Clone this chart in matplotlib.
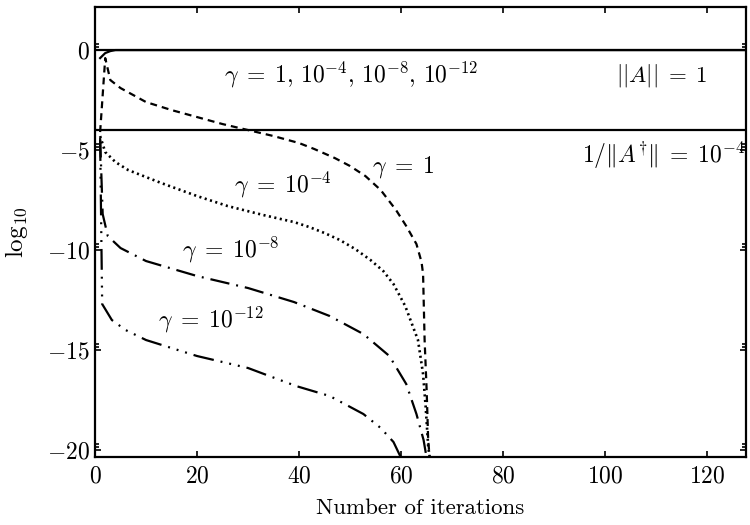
import matplotlib
matplotlib.use("Agg")
import matplotlib.pyplot as plt

plt.rcParams['mathtext.fontset'] = 'cm'
plt.rcParams['font.family'] = 'cmr10'
plt.rcParams['axes.formatter.use_mathtext'] = True
plt.rcParams['lines.scale_dashes'] = False

# reference values (log10)
norm_A = 0.0
inv_norm_pinv = -4.0

# estimates of ||A|| (all gamma)
it_top = [1, 2, 3, 4, 128]
est_top = [-0.4, -0.15, -0.05, 0.0, 0.0]

# gamma = 1
it_g0 = [1, 2, 3, 5, 10, 15, 20, 25, 30, 35, 40, 43, 47, 50, 53, 56, 59, 61, 63, 64, 64.3, 64.6, 65.0, 65.3, 65.6]
est_g0 = [-4.1, -0.4, -1.5, -1.9, -2.6, -3.0, -3.35, -3.7, -4.0, -4.3, -4.65, -4.95, -5.4, -5.8, -6.3, -7.0, -8.0,
          -8.8, -9.7, -10.6, -11.2, -14.5, -17.0, -19.5, -20.4]

# gamma = 1e-4
it_g4 = [1, 2, 4, 6.5, 10, 13, 20, 26, 33, 39, 42, 45, 48, 51, 54, 56.5, 58.5, 60.8, 63.3, 64.3, 64.8, 65.3, 65.6]
est_g4 = [-4.3, -5.1, -5.6, -6.0, -6.35, -6.65, -7.3, -7.8, -8.25, -8.6, -8.85, -9.15, -9.5, -9.95, -10.5,
          -11.05, -11.7, -12.8, -14.5, -16.2, -17.8, -19.8, -20.4]

# gamma = 1e-8
it_g8 = [1, 1.5, 2.5, 5, 10, 20, 30, 39, 46, 52.6, 57.7, 61, 63, 64.4, 65]
est_g8 = [-4.4, -8.2, -9.3, -9.9, -10.55, -11.3, -11.9, -12.6, -13.3, -14.2, -15.3, -16.7, -18.2, -19.5, -20.4]

# gamma = 1e-12
it_g12 = [1, 1.4, 3.3, 6, 10, 20, 30, 39.4, 46, 52.6, 56, 58.5, 60]
est_g12 = [-4.5, -12.7, -13.5, -14.0, -14.5, -15.3, -15.9, -16.8, -17.3, -18.2, -18.9, -19.6, -20.4]

fig = plt.figure(figsize=(7.5, 5.25), dpi=100)
ax = fig.add_axes([0.1267, 0.1295, 0.868, 0.857])

lw = 1.6
ax.axhline(norm_A, color='k', lw=lw)
ax.axhline(inv_norm_pinv, color='k', lw=lw)
ax.plot(it_top, est_top, color='k', lw=lw)
ax.plot(it_g0, est_g0, color='k', lw=lw, dashes=(5, 3.6))
ax.plot(it_g4, est_g4, color='k', lw=1.9, dashes=(1.5, 2.5))
ax.plot(it_g8, est_g8, color='k', lw=lw, dashes=(14, 5, 1.4, 5))
ax.plot(it_g12, est_g12, color='k', lw=lw, dashes=(15, 5, 1.4, 5, 1.4, 5, 1.4, 5))

fs = 17
ax.text(50.2, -1.25, r'$\gamma\;=\;1,\,10^{-4},\,10^{-8},\,10^{-12}$', fontsize=fs, ha='center', va='center')
ax.text(111, -1.25, r'$||A||\;=\;1$', fontsize=16.5, ha='center', va='center')
ax.text(127.4, -5.25, r'$1/\|A^{\dagger}\|\;=\;10^{-4}$', fontsize=fs, ha='right', va='center')
ax.text(60.4, -5.85, r'$\gamma\;=\;1$', fontsize=fs, ha='center', va='center')
ax.text(36.8, -6.75, r'$\gamma\;=\;10^{-4}$', fontsize=fs, ha='center', va='center')
ax.text(26.6, -10.0, r'$\gamma\;=\;10^{-8}$', fontsize=fs, ha='center', va='center')
ax.text(22.6, -13.5, r'$\gamma\;=\;10^{-12}$', fontsize=fs, ha='center', va='center')

ax.set_xlim(0, 127.6)
ax.set_ylim(-20.35, 2.15)
xt = [0, 20, 40, 60, 80, 100, 120]
yt = [0, -5, -10, -15, -20]
ax.set_xticks(xt)
ax.set_xticklabels([f'${v}$' for v in xt])
ax.set_yticks(yt)
ax.set_yticklabels([f'${v}$' for v in yt])
ax.set_yticks([v + d for v in yt for d in (0.15, 0.3)], minor=True)
ax.tick_params(which='both', direction='in', top=True, right=True, labelsize=17, width=1.2)
ax.tick_params(which='major', length=4)
ax.tick_params(axis='x', which='major', pad=6)
ax.tick_params(axis='y', which='major', pad=4)
ax.tick_params(which='minor', length=3)
for s in ax.spines.values():
    s.set_linewidth(1.6)

ax.set_xlabel('Number of iterations', fontsize=16.5, labelpad=8)
ax.set_ylabel(r'$\log_{10}$', fontsize=18, labelpad=12)

fig.savefig('out.png', dpi=100)
